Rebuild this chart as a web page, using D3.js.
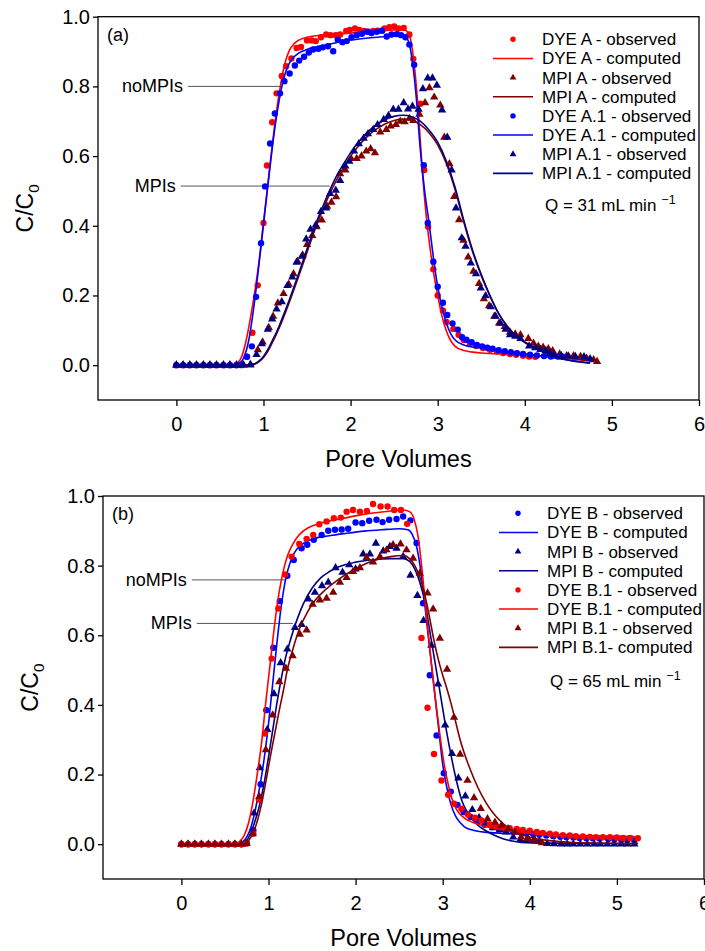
<!DOCTYPE html>
<html>
<head>
<meta charset="utf-8">
<script src="https://cdn.jsdelivr.net/npm/d3@7"></script>
<style>
  body { margin: 0; background: #fff; }
  text { font-family: Arial, "Liberation Sans", sans-serif; fill: #000; }
</style>
</head>
<body>
<svg id="chart" width="705" height="951"></svg>
<script>
// ---- axes ----
var xTicks = [0, 1, 2, 3, 4, 5, 6];
var yTicks = [0.0, 0.2, 0.4, 0.6, 0.8, 1.0];
var xDomain = [-0.9, 6];
var yDomain = [-0.1, 1.0];

// ---- panel (a): Q = 31 mL/min ----
var dyeAObs = [[0,0],[0.077,0],[0.154,0],[0.23,0],[0.31,0],[0.385,0],[0.46,0],[0.54,0],[0.615,0],[0.69,0],[0.75,0],
  [0.81,0.024],[0.873,0.093],[0.934,0.229],[1.0,0.408],[1.04,0.573],[1.10,0.697],[1.15,0.78],[1.21,0.83],[1.26,0.858],
  [1.32,0.88],[1.38,0.91],[1.43,0.913],[1.50,0.932],[1.555,0.932],[1.60,0.93],[1.66,0.941],[1.72,0.949],[1.77,0.947],
  [1.83,0.947],[1.88,0.949],[1.95,0.959],[1.99,0.962],[2.05,0.966],[2.10,0.962],[2.155,0.959],[2.21,0.957],[2.26,0.959],
  [2.31,0.96],[2.36,0.96],[2.39,0.966],[2.445,0.97],[2.50,0.972],[2.55,0.966],[2.61,0.968],[2.675,0.949],[2.72,0.879],
  [2.80,0.75],[2.845,0.56],[2.89,0.397],[2.95,0.275],[3.0,0.2],[3.06,0.157],[3.10,0.124],[3.18,0.104],[3.24,0.087],
  [3.30,0.072],[3.37,0.061],[3.44,0.055],[3.52,0.049],[3.6,0.044],[3.68,0.039],[3.75,0.035],[3.83,0.032],[3.9,0.03],
  [3.98,0.027],[4.05,0.025],[4.12,0.024]];
var dyeAComp = [[0,0],[0.65,0],[0.7,0.006],[0.75,0.025],[0.8,0.07],[0.85,0.135],[0.9,0.21],[0.95,0.3],[1.0,0.41],
  [1.05,0.52],[1.1,0.63],[1.15,0.73],[1.2,0.81],[1.25,0.87],[1.3,0.905],[1.35,0.922],[1.4,0.932],[1.5,0.941],[1.7,0.947],
  [1.9,0.951],[2.1,0.955],[2.3,0.959],[2.5,0.962],[2.62,0.962],[2.67,0.95],[2.7,0.92],[2.74,0.84],[2.78,0.72],[2.82,0.57],
  [2.86,0.45],[2.9,0.36],[2.95,0.27],[3.0,0.2],[3.05,0.14],[3.1,0.098],[3.15,0.07],[3.2,0.054],[3.3,0.042],[3.5,0.035],
  [3.8,0.031],[4.1,0.028],[4.4,0.022],[4.6,0.016],[4.8,0.011]];
var mpiAObs = [[0,0],[0.077,0],[0.154,0],[0.23,0],[0.31,0],[0.385,0],[0.46,0],[0.54,0],[0.615,0],[0.69,0],[0.77,0],[0.85,0],
  [0.935,0.044],[0.99,0.066],[1.06,0.108],[1.11,0.14],[1.165,0.178],[1.23,0.205],[1.29,0.232],[1.345,0.262],[1.39,0.298],
  [1.45,0.316],[1.50,0.346],[1.56,0.372],[1.61,0.397],[1.67,0.416],[1.73,0.456],[1.78,0.467],[1.834,0.483],[1.88,0.549],
  [1.94,0.56],[2.006,0.593],[2.07,0.593],[2.125,0.6],[2.18,0.614],[2.23,0.621],[2.28,0.609],[2.34,0.669],[2.41,0.676],
  [2.46,0.686],[2.52,0.69],[2.57,0.70],[2.62,0.698],[2.675,0.708],[2.72,0.702],[2.79,0.72],[2.855,0.753],[2.905,0.796],
  [2.96,0.769],[3.03,0.746],[3.076,0.654],[3.135,0.578],[3.19,0.484],[3.246,0.417],[3.295,0.358],[3.35,0.31],[3.41,0.269],
  [3.475,0.234],[3.53,0.19],[3.59,0.17],[3.65,0.14],[3.705,0.121],[3.77,0.111],[3.83,0.094],[3.89,0.089],[3.95,0.087],
  [4.04,0.076],[4.10,0.063],[4.155,0.054],[4.21,0.051],[4.27,0.047],[4.32,0.041],[4.40,0.032],[4.48,0.027],[4.56,0.027],
  [4.64,0.025],[4.71,0.02],[4.79,0.015],[4.83,0.01]];
var mpiAComp = [[0,0],[0.8,0],[0.9,0.003],[0.95,0.01],[1.0,0.022],[1.05,0.04],[1.1,0.064],[1.15,0.09],[1.2,0.118],
  [1.25,0.15],[1.3,0.183],[1.35,0.217],[1.4,0.252],[1.45,0.288],[1.5,0.324],[1.55,0.36],[1.6,0.395],[1.65,0.427],
  [1.7,0.457],[1.75,0.486],[1.8,0.512],[1.85,0.537],[1.9,0.559],[1.95,0.58],[2.0,0.6],[2.1,0.632],[2.2,0.658],[2.3,0.678],
  [2.4,0.693],[2.5,0.702],[2.6,0.706],[2.7,0.703],[2.8,0.69],[2.9,0.667],[3.0,0.632],[3.1,0.578],[3.2,0.503],[3.3,0.41],
  [3.4,0.326],[3.5,0.257],[3.6,0.198],[3.7,0.148],[3.8,0.112],[3.9,0.085],[4.0,0.067],[4.1,0.053],[4.2,0.042],[4.3,0.033],
  [4.4,0.026],[4.5,0.021],[4.6,0.017],[4.7,0.014],[4.83,0.01]];
var dyeA1Obs = [[0,0],[0.077,0],[0.154,0],[0.23,0],[0.31,0],[0.385,0],[0.46,0],[0.54,0],[0.615,0],[0.69,0],[0.75,0.002],
  [0.81,0.024],[0.866,0.054],[0.915,0.196],[0.972,0.35],[1.018,0.513],[1.076,0.636],[1.13,0.722],[1.19,0.78],[1.24,0.815],
  [1.30,0.837],[1.36,0.86],[1.41,0.874],[1.466,0.885],[1.52,0.897],[1.57,0.906],[1.63,0.908],[1.68,0.912],[1.74,0.915],
  [1.80,0.901],[1.853,0.934],[1.906,0.927],[1.956,0.93],[2.01,0.941],[2.07,0.947],[2.13,0.951],[2.19,0.957],[2.24,0.953],
  [2.30,0.957],[2.36,0.96],[2.415,0.943],[2.47,0.949],[2.53,0.95],[2.58,0.947],[2.63,0.941],[2.675,0.92],[2.73,0.862],
  [2.84,0.574],[2.886,0.408],[2.95,0.297],[3.0,0.225],[3.06,0.179],[3.11,0.144],[3.17,0.12],[3.23,0.102],[3.28,0.08],
  [3.33,0.073],[3.39,0.066],[3.45,0.058],[3.51,0.054],[3.57,0.05],[3.63,0.047],[3.7,0.043],[3.77,0.04],[3.84,0.037],
  [3.91,0.034],[3.98,0.032],[4.06,0.03],[4.14,0.028],[4.22,0.026],[4.3,0.025],[4.38,0.025],[4.44,0.024]];
var dyeA1Comp = [[0,0],[0.68,0],[0.73,0.006],[0.78,0.025],[0.83,0.07],[0.88,0.15],[0.93,0.25],[0.98,0.36],[1.03,0.47],
  [1.08,0.58],[1.13,0.68],[1.18,0.76],[1.23,0.82],[1.28,0.858],[1.33,0.879],[1.4,0.895],[1.5,0.906],[1.7,0.918],[1.9,0.929],
  [2.1,0.936],[2.3,0.941],[2.5,0.944],[2.62,0.944],[2.67,0.925],[2.71,0.87],[2.75,0.78],[2.8,0.62],[2.85,0.5],[2.9,0.41],
  [2.95,0.31],[3.0,0.225],[3.05,0.165],[3.1,0.12],[3.15,0.09],[3.2,0.072],[3.3,0.058],[3.5,0.049],[3.7,0.042],[3.9,0.035],
  [4.1,0.03],[4.3,0.022],[4.5,0.015],[4.75,0.006]];
var mpiA1Obs = [[0,0],[0.077,0],[0.154,0],[0.23,0],[0.31,0],[0.385,0],[0.46,0],[0.54,0],[0.615,0],[0.69,0],[0.77,0],[0.85,0.002],
  [0.92,0.03],[0.98,0.061],[1.05,0.103],[1.10,0.132],[1.15,0.161],[1.21,0.182],[1.275,0.228],[1.33,0.253],[1.38,0.295],
  [1.44,0.312],[1.49,0.362],[1.54,0.39],[1.60,0.402],[1.66,0.441],[1.72,0.451],[1.765,0.492],[1.83,0.502],[1.88,0.53],
  [1.94,0.571],[1.986,0.585],[2.04,0.614],[2.094,0.635],[2.15,0.651],[2.20,0.664],[2.26,0.676],[2.31,0.69],[2.38,0.705],
  [2.435,0.716],[2.49,0.734],[2.55,0.734],[2.61,0.753],[2.66,0.735],[2.71,0.743],[2.78,0.734],[2.83,0.793],[2.886,0.824],
  [2.94,0.824],[2.99,0.803],[3.05,0.732],[3.11,0.654],[3.16,0.56],[3.21,0.451],[3.276,0.365],[3.32,0.341],[3.38,0.293],
  [3.44,0.262],[3.495,0.221],[3.55,0.199],[3.61,0.167],[3.665,0.14],[3.72,0.12],[3.78,0.103],[3.83,0.087],[3.89,0.083],
  [3.95,0.076],[4.05,0.055],[4.12,0.05],[4.18,0.045],[4.24,0.042],[4.29,0.034],[4.34,0.03],[4.42,0.027],[4.5,0.026],
  [4.58,0.025],[4.68,0.024],[4.75,0.018]];
var mpiA1Comp = [[0,0],[0.8,0],[0.9,0.004],[0.95,0.012],[1.0,0.025],[1.05,0.045],[1.1,0.07],[1.15,0.095],[1.2,0.125],
  [1.25,0.157],[1.3,0.19],[1.35,0.225],[1.4,0.26],[1.45,0.297],[1.5,0.333],[1.55,0.37],[1.6,0.405],[1.65,0.437],[1.7,0.467],
  [1.75,0.496],[1.8,0.523],[1.85,0.548],[1.9,0.57],[1.95,0.59],[2.0,0.61],[2.1,0.643],[2.2,0.67],[2.3,0.69],[2.4,0.705],
  [2.5,0.714],[2.6,0.717],[2.7,0.713],[2.8,0.70],[2.9,0.675],[3.0,0.64],[3.1,0.585],[3.2,0.51],[3.3,0.415],[3.4,0.33],
  [3.5,0.26],[3.6,0.2],[3.7,0.148],[3.8,0.11],[3.9,0.082],[4.0,0.065],[4.1,0.05],[4.2,0.039],[4.3,0.029],[4.4,0.02],
  [4.5,0.014],[4.6,0.01],[4.7,0.007],[4.75,0.006]];

// ---- panel (b): Q = 65 mL/min ----
var dyeBObs = [[0,0],[0.077,0],[0.154,0],[0.23,0],[0.31,0],[0.385,0],[0.46,0],[0.54,0],[0.615,0],[0.69,0],[0.75,0.003],
  [0.826,0.04],[0.91,0.172],[0.975,0.385],[1.055,0.564],[1.13,0.698],[1.216,0.771],[1.29,0.816],[1.38,0.85],[1.445,0.86],
  [1.52,0.874],[1.61,0.888],[1.686,0.9],[1.763,0.903],[1.84,0.904],[1.915,0.906],[2.0,0.924],[2.076,0.922],[2.156,0.929],
  [2.24,0.932],[2.31,0.925],[2.385,0.932],[2.47,0.934],[2.546,0.941],[2.63,0.93],[2.70,0.865],[2.775,0.692],[2.852,0.485],
  [2.93,0.312],[3.013,0.204],[3.093,0.151],[3.17,0.113],[3.24,0.092],[3.32,0.078],[3.406,0.066],[3.48,0.056],[3.57,0.049],
  [3.65,0.043],[3.73,0.039],[3.81,0.036],[3.89,0.034],[3.96,0.032],[4.04,0.029],[4.11,0.027],[4.19,0.025],[4.27,0.023],
  [4.35,0.021],[4.42,0.02],[4.5,0.019],[4.57,0.018],[4.65,0.017],[4.72,0.017],[4.8,0.016],[4.9,0.015],[4.97,0.014],
  [5.05,0.013],[5.12,0.012],[5.2,0.011]];
var dyeBComp = [[0,0],[0.65,0],[0.7,0.006],[0.75,0.02],[0.8,0.05],[0.85,0.1],[0.9,0.165],[0.95,0.245],[1.0,0.345],
  [1.05,0.465],[1.1,0.585],[1.15,0.69],[1.2,0.765],[1.25,0.81],[1.3,0.838],[1.4,0.864],[1.5,0.876],[1.7,0.886],[1.9,0.893],
  [2.1,0.899],[2.3,0.903],[2.5,0.906],[2.6,0.903],[2.65,0.89],[2.7,0.855],[2.74,0.8],[2.78,0.72],[2.82,0.63],[2.86,0.54],
  [2.9,0.45],[2.95,0.34],[3.0,0.23],[3.05,0.16],[3.1,0.11],[3.15,0.08],[3.2,0.062],[3.25,0.05],[3.35,0.04],[3.5,0.034],
  [3.8,0.03],[4.2,0.026],[4.7,0.023],[5.2,0.022]];
var mpiBObs = [[0,0],[0.077,0],[0.154,0],[0.23,0],[0.31,0],[0.385,0],[0.46,0],[0.54,0],[0.615,0],[0.69,0],[0.74,0.002],
  [0.834,0.089],[0.9,0.219],[0.986,0.329],[1.063,0.432],[1.14,0.521],[1.216,0.56],[1.304,0.622],[1.38,0.631],[1.457,0.704],
  [1.533,0.723],[1.614,0.742],[1.686,0.752],[1.77,0.794],[1.85,0.781],[1.927,0.802],[2.0,0.79],[2.087,0.833],[2.164,0.833],
  [2.233,0.864],[2.317,0.842],[2.393,0.855],[2.47,0.85],[2.546,0.826],[2.63,0.772],[2.71,0.714],[2.78,0.642],[2.87,0.571],
  [2.947,0.46],[3.028,0.342],[3.107,0.26],[3.18,0.19],[3.26,0.138],[3.34,0.099],[3.417,0.076],[3.494,0.059],[3.578,0.047],
  [3.655,0.041],[3.73,0.035],[3.81,0.02],[3.89,0.013],[3.96,0.011],[4.04,0.01],[4.11,0.008],[4.2,0.002],[4.28,0.001],
  [4.36,0],[4.43,0],[4.5,0],[4.58,0],[4.66,0],[4.74,0],[4.81,0],[4.89,0],[4.97,0],[5.05,0],[5.12,0],[5.2,0]];
var mpiBComp = [[0,0],[0.7,0],[0.75,0.01],[0.8,0.035],[0.85,0.07],[0.9,0.115],[0.95,0.175],[1.0,0.25],[1.05,0.33],
  [1.1,0.41],[1.15,0.48],[1.2,0.54],[1.25,0.585],[1.3,0.625],[1.35,0.66],[1.4,0.69],[1.5,0.735],[1.6,0.765],[1.7,0.783],
  [1.8,0.796],[2.0,0.81],[2.2,0.817],[2.4,0.82],[2.55,0.82],[2.62,0.812],[2.68,0.79],[2.74,0.75],[2.8,0.69],[2.86,0.6],
  [2.92,0.51],[2.98,0.42],[3.04,0.33],[3.1,0.25],[3.16,0.18],[3.22,0.125],[3.3,0.085],[3.4,0.055],[3.5,0.038],[3.6,0.025],
  [3.7,0.015],[3.8,0.009],[3.9,0.005],[4.2,0.003],[4.8,0.002],[5.24,0.002]];
var dyeB1Obs = [[0,0],[0.077,0],[0.154,0],[0.23,0],[0.31,0],[0.385,0],[0.46,0],[0.54,0],[0.615,0],[0.69,0],[0.75,0.002],
  [0.826,0.03],[0.89,0.128],[0.96,0.318],[1.037,0.533],[1.113,0.677],[1.19,0.775],[1.266,0.826],[1.353,0.862],[1.438,0.877],
  [1.514,0.888],[1.583,0.919],[1.667,0.927],[1.75,0.936],[1.83,0.938],[1.897,0.955],[1.97,0.96],[2.05,0.955],[2.13,0.957],
  [2.20,0.977],[2.287,0.97],[2.367,0.97],[2.443,0.96],[2.52,0.96],[2.592,0.92],[2.757,0.592],[2.826,0.392],[2.90,0.259],
  [2.986,0.183],[3.063,0.142],[3.13,0.116],[3.215,0.102],[3.29,0.085],[3.37,0.076],[3.445,0.068],[3.54,0.057],[3.61,0.052],
  [3.69,0.049],[3.77,0.046],[3.85,0.044],[3.92,0.041],[4.0,0.039],[4.08,0.035],[4.15,0.032],[4.23,0.03],[4.3,0.028],
  [4.38,0.026],[4.46,0.025],[4.53,0.023],[4.61,0.022],[4.69,0.021],[4.76,0.02],[4.84,0.02],[4.92,0.02],[5.0,0.019],
  [5.07,0.018],[5.15,0.018],[5.24,0.017]];
var dyeB1Comp = [[0,0],[0.62,0],[0.67,0.008],[0.72,0.025],[0.77,0.06],[0.82,0.12],[0.87,0.2],[0.92,0.29],[0.97,0.41],
  [1.02,0.52],[1.07,0.63],[1.12,0.72],[1.17,0.785],[1.22,0.83],[1.28,0.862],[1.35,0.888],[1.45,0.908],[1.6,0.922],
  [1.8,0.933],[2.0,0.943],[2.2,0.951],[2.4,0.957],[2.55,0.96],[2.62,0.955],[2.67,0.935],[2.72,0.88],[2.77,0.77],[2.82,0.64],
  [2.87,0.52],[2.92,0.41],[2.97,0.31],[3.02,0.225],[3.07,0.165],[3.12,0.12],[3.17,0.095],[3.25,0.075],[3.35,0.062],
  [3.5,0.05],[3.7,0.041],[3.9,0.034],[4.2,0.028],[4.6,0.023],[5.0,0.021],[5.24,0.02]];
var mpiB1Obs = [[0,0],[0.077,0],[0.154,0],[0.23,0],[0.31,0],[0.385,0],[0.46,0],[0.54,0],[0.615,0],[0.69,0],[0.75,0.002],
  [0.82,0.03],[0.894,0.137],[0.97,0.271],[1.048,0.371],[1.124,0.466],[1.2,0.505],[1.277,0.541],[1.36,0.603],[1.438,0.615],
  [1.507,0.689],[1.59,0.701],[1.667,0.706],[1.743,0.723],[1.82,0.752],[1.897,0.766],[1.97,0.783],[2.05,0.794],[2.126,0.823],
  [2.2,0.81],[2.28,0.826],[2.355,0.845],[2.43,0.86],[2.516,0.862],[2.585,0.845],[2.66,0.821],[2.737,0.778],[2.826,0.721],
  [2.89,0.675],[2.967,0.591],[3.05,0.502],[3.13,0.364],[3.2,0.258],[3.285,0.183],[3.36,0.133],[3.437,0.102],[3.514,0.073],
  [3.6,0.063],[3.675,0.054],[3.75,0.044],[3.83,0.035],[3.9,0.02],[3.98,0.016],[4.06,0.011],[4.14,0.004]];
var mpiB1Comp = [[0,0],[0.72,0],[0.77,0.01],[0.82,0.03],[0.87,0.065],[0.92,0.115],[0.97,0.18],[1.02,0.25],[1.07,0.315],
  [1.12,0.38],[1.17,0.44],[1.22,0.505],[1.28,0.56],[1.35,0.615],[1.45,0.668],[1.55,0.705],[1.65,0.73],[1.8,0.76],[2.0,0.791],
  [2.2,0.814],[2.4,0.826],[2.55,0.829],[2.62,0.82],[2.68,0.8],[2.74,0.765],[2.8,0.71],[2.85,0.65],[2.9,0.585],[2.95,0.53],
  [3.0,0.485],[3.05,0.445],[3.1,0.4],[3.15,0.35],[3.2,0.3],[3.3,0.225],[3.4,0.165],[3.5,0.118],[3.6,0.083],[3.7,0.058],
  [3.8,0.04],[3.9,0.028],[4.0,0.02],[4.2,0.011],[4.5,0.005],[5.24,0.002]];

var colors = { red: "#ff0000", blue: "#0000ff", navy: "#000080", maroon: "#800000" };

var panels = [
  {
    box: { left: 98, right: 699, top: 16.7, bottom: 400 },
    tag: "(a)",
    series: [
      { name: "DYE A - observed", data: dyeAObs, kind: "circle", color: colors.red },
      { name: "DYE A - computed", data: dyeAComp, kind: "line", color: colors.red },
      { name: "MPI A - observed", data: mpiAObs, kind: "triangle", color: colors.maroon },
      { name: "MPI A - computed", data: mpiAComp, kind: "line", color: colors.maroon },
      { name: "DYE A.1 - observed", data: dyeA1Obs, kind: "circle", color: colors.blue },
      { name: "DYE A.1 - computed", data: dyeA1Comp, kind: "line", color: colors.blue },
      { name: "MPI A.1 - observed", data: mpiA1Obs, kind: "triangle", color: colors.navy },
      { name: "MPI A.1 - computed", data: mpiA1Comp, kind: "line", color: colors.navy }
    ],
    flow: "Q = 31 mL min",
    notes: [
      { label: "noMPIs", x0: 0.133, x1: 1.19, y: 0.8 },
      { label: "MPIs", x0: 0.05, x1: 1.76, y: 0.514 }
    ],
    legend: { sym: 513, lineL: 493, lineR: 533, text: 542, y0: 39.3, step: 19.15, q: 210.5 }
  },
  {
    box: { left: 103, right: 704, top: 496, bottom: 879 },
    tag: "(b)",
    series: [
      { name: "DYE B - observed", data: dyeBObs, kind: "circle", color: colors.blue },
      { name: "DYE B - computed", data: dyeBComp, kind: "line", color: colors.blue },
      { name: "MPI B - observed", data: mpiBObs, kind: "triangle", color: colors.navy },
      { name: "MPI B - computed", data: mpiBComp, kind: "line", color: colors.navy },
      { name: "DYE B.1 - observed", data: dyeB1Obs, kind: "circle", color: colors.red },
      { name: "DYE B.1 - computed", data: dyeB1Comp, kind: "line", color: colors.red },
      { name: "MPI B.1 - observed", data: mpiB1Obs, kind: "triangle", color: colors.maroon },
      { name: "MPI B.1- computed", data: mpiB1Comp, kind: "line", color: colors.maroon }
    ],
    flow: "Q = 65 mL min",
    notes: [
      { label: "noMPIs", x0: 0.12, x1: 1.19, y: 0.759 },
      { label: "MPIs", x0: 0.177, x1: 1.28, y: 0.634 }
    ],
    legend: { sym: 518, lineL: 499, lineR: 538, text: 547, y0: 513.3, step: 19.15, q: 687 }
  }
];

var svg = d3.select("#chart");

function drawPanel(p) {
  var b = p.box;
  var x = d3.scaleLinear().domain(xDomain).range([b.left, b.right]);
  var y = d3.scaleLinear().domain(yDomain).range([b.bottom, b.top]);
  var g = svg.append("g");

  // frame
  g.append("rect")
    .attr("x", b.left).attr("y", b.top)
    .attr("width", b.right - b.left).attr("height", b.bottom - b.top)
    .attr("fill", "none").attr("stroke", "#000").attr("stroke-width", 1.3);

  var xAxis = g.append("g")
    .attr("transform", "translate(0," + b.bottom + ")")
    .call(d3.axisBottom(x).tickValues(xTicks).tickFormat(d3.format("d")).tickSize(6).tickPadding(11));
  var yAxis = g.append("g")
    .attr("transform", "translate(" + b.left + ",0)")
    .call(d3.axisLeft(y).tickValues(yTicks).tickFormat(d3.format(".1f")).tickSize(5).tickPadding(3));
  [xAxis, yAxis].forEach(function (ax) {
    ax.select(".domain").remove();
    ax.selectAll("line").attr("stroke", "#000").attr("stroke-width", 1.3);
    ax.selectAll("text").attr("font-size", 20).attr("font-family", "Arial, 'Liberation Sans', sans-serif").attr("fill", "#000");
  });

  // axis titles
  g.append("text")
    .attr("x", (b.left + b.right) / 2).attr("y", b.bottom + 67)
    .attr("text-anchor", "middle").attr("font-size", 23.5)
    .text("Pore Volumes");
  var yt = g.append("text")
    .attr("transform", "translate(" + (b.left - 65) + "," + ((b.top + b.bottom) / 2) + ") rotate(-90)")
    .attr("text-anchor", "middle").attr("font-size", 23);
  yt.append("tspan").text("C/C");
  yt.append("tspan").attr("font-size", 15.5).attr("dy", 6).text("0");

  // panel tag
  g.append("text").attr("x", b.left + 9).attr("y", b.top + 24).attr("font-size", 18).text(p.tag);

  // annotation leaders
  p.notes.forEach(function (n) {
    g.append("line")
      .attr("x1", x(n.x0)).attr("x2", x(n.x1)).attr("y1", y(n.y)).attr("y2", y(n.y))
      .attr("stroke", "#555").attr("stroke-width", 1);
    g.append("text")
      .attr("x", x(n.x0) - 5).attr("y", y(n.y) + 6)
      .attr("text-anchor", "end").attr("font-size", 18)
      .text(n.label);
  });

  var line = d3.line().x(function (d) { return x(d[0]); }).y(function (d) { return y(d[1]); })
    .curve(d3.curveMonotoneX);
  var tri = d3.symbol().type(d3.symbolTriangle).size(30);

  p.series.forEach(function (s) {
    if (s.kind === "line") {
      g.append("path").datum(s.data)
        .attr("d", line).attr("fill", "none")
        .attr("stroke", s.color).attr("stroke-width", 1.6);
    } else if (s.kind === "circle") {
      g.append("g").selectAll("circle").data(s.data).enter().append("circle")
        .attr("cx", function (d) { return x(d[0]); })
        .attr("cy", function (d) { return y(d[1]); })
        .attr("r", 3.2).attr("fill", s.color);
    } else {
      g.append("g").selectAll("path").data(s.data).enter().append("path")
        .attr("d", tri)
        .attr("transform", function (d) { return "translate(" + x(d[0]) + "," + y(d[1]) + ")"; })
        .attr("fill", s.color);
    }
  });

  // legend
  var L = p.legend;
  var legTri = d3.symbol().type(d3.symbolTriangle).size(20);
  p.series.forEach(function (s, i) {
    var cy = L.y0 + i * L.step;
    if (s.kind === "line") {
      g.append("line").attr("x1", L.lineL).attr("x2", L.lineR).attr("y1", cy).attr("y2", cy)
        .attr("stroke", s.color).attr("stroke-width", 1.6);
    } else if (s.kind === "circle") {
      g.append("circle").attr("cx", L.sym).attr("cy", cy).attr("r", 2.7).attr("fill", s.color);
    } else {
      g.append("path").attr("d", legTri).attr("transform", "translate(" + L.sym + "," + cy + ")").attr("fill", s.color);
    }
    g.append("text").attr("x", L.text).attr("y", cy + 6).attr("font-size", 17).text(s.name);
  });
  var q = g.append("text").attr("x", L.text + 3).attr("y", L.q).attr("font-size", 17);
  q.append("tspan").text(p.flow);
  q.append("tspan").attr("font-size", 12.5).attr("dx", 5).attr("dy", -7).text("\u22121");
}

panels.forEach(drawPanel);
</script>
</body>
</html>
